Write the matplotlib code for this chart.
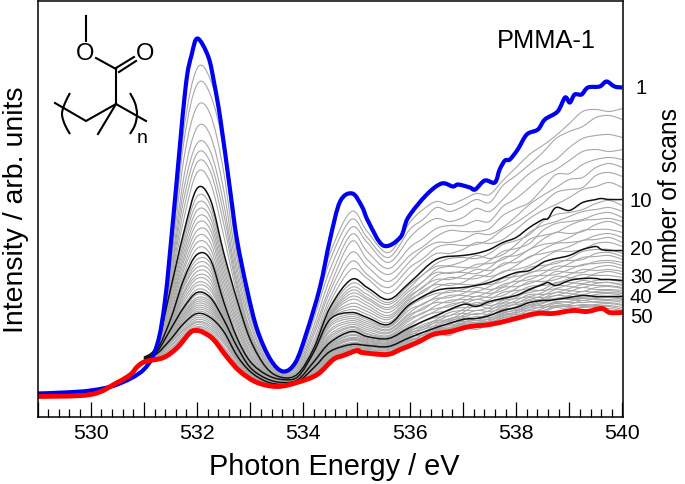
import numpy as np
import matplotlib
matplotlib.use('Agg')
import matplotlib.pyplot as plt
from matplotlib.path import Path
from matplotlib.patches import PathPatch

plt.rcParams['font.family'] = ['Liberation Sans', 'DejaVu Sans']

# Intensity is read as a picture depth, counted down from the top of the frame
TOP = 417

# Scan 1
blue_x = [529, 529.5, 530, 530.5, 531, 531.25, 531.4, 531.55, 531.78, 531.9, 532.01, 532.21, 532.32, 532.44,
          532.62, 532.75, 532.94, 533.13, 533.38, 533.62, 533.85, 534.06, 534.31, 534.5, 534.69, 534.92,
          535.1, 535.22, 535.5, 535.82, 535.97, 536.32, 536.6, 536.81, 536.91, 537.13, 537.23, 537.41, 537.6,
          537.69, 537.79, 537.88, 538.03, 538.2, 538.41, 538.54, 538.78, 538.92, 539.01, 539.1, 539.23,
          539.35, 539.57, 539.7, 539.85, 540]
blue_y = [394, 393, 391, 385, 370, 345, 300, 220, 90, 55, 39, 57, 83, 120,
          190, 240, 290, 330, 360, 372, 363, 333, 288, 240, 202, 194,
          207, 222, 246, 238, 218, 195, 184, 187, 185, 188, 190, 181, 183,
          170, 161, 160, 150, 135, 130, 120, 112, 98, 103, 95, 95,
          88, 87, 82, 87, 88]

# Scan 50
red_x = [529, 530, 530.5, 530.75, 530.88, 531.03, 531.37, 531.63, 531.87, 532, 532.12, 532.31, 532.57, 532.81, 533.13,
         533.51, 533.88, 534.26, 534.56, 534.75, 535.01, 535.1, 535.57, 535.82, 536.14, 536.44, 536.76, 537.13,
         537.51, 537.92, 538.39, 538.69, 539.07, 539.33, 539.61, 539.76, 540]
red_y = [397, 395, 383, 375, 367, 362, 358, 348, 333, 331, 333, 340, 358, 372, 383,
         387, 383, 375, 360, 356, 351, 353, 355, 350, 343, 335, 332, 327,
         325, 320, 314, 314, 311, 312, 309, 313, 313]

# Scans 10, 20, 30, 40
black_x = [531, 531.25, 531.5, 531.75, 532, 532.25, 532.5, 532.75, 533, 533.3, 533.6, 533.9, 534.2, 534.5, 534.9,
           535.2, 535.6, 536, 536.5, 537, 537.25, 537.5, 537.75, 538, 538.25, 538.5, 538.6, 538.75, 539, 539.25,
           539.5, 539.6, 539.75, 540]
scan_10 = [358, 345, 290, 233, 189, 200, 253, 300, 340, 368, 378, 374, 348, 308, 280,
           288, 300, 283, 260, 256, 254, 250, 243, 238, 228, 220, 219, 208, 211, 203,
           200, 199, 200, 200]
scan_20 = [359, 350, 320, 280, 255, 260, 302, 338, 362, 375, 380, 377, 352, 320, 313,
           318, 325, 305, 291, 288, 286, 283, 278, 273, 271, 263, 261, 259, 256, 250,
           247, 250, 251, 251]
scan_30 = [360, 352, 330, 308, 293, 298, 320, 347, 368, 379, 383, 380, 362, 343, 332,
           337, 339, 328, 316, 305, 307, 302, 299, 296, 290, 285, 283, 286, 281, 279,
           279, 280, 280, 281]
scan_40 = [361, 354, 340, 324, 314, 318, 332, 356, 372, 382, 385, 382, 368, 352, 345,
           346, 347, 338, 328, 320, 319, 316, 311, 308, 303, 301, 301, 300, 298, 296,
           297, 297, 297, 297]

# The grey scans in between
gray_x = [531, 531.25, 531.5, 531.75, 532, 532.25, 532.5, 532.75, 533, 533.3, 533.6, 533.9, 534.2, 534.5, 534.9,
          535.2, 535.6, 536, 536.5, 537, 537.5, 538, 538.5, 539, 539.5, 540]
scans_2_9 = [
    [362, 345, 258, 131, 69, 80, 135, 252, 312, 354, 372, 359, 308, 254, 212, 232, 253, 223, 202, 200, 195, 168, 146, 124, 110, 109],
    [362, 345, 262, 143, 85, 95, 150, 258, 316, 356, 373, 361, 313, 261, 220, 238, 258, 230, 208, 207, 203, 176, 153, 132, 118, 120],
    [362, 345, 268, 160, 107, 115, 172, 267, 321, 359, 374, 364, 319, 270, 228, 243, 263, 238, 219, 218, 212, 186, 166, 148, 136, 138],
    [362, 345, 273, 178, 128, 136, 190, 274, 325, 361, 375, 366, 326, 279, 235, 252, 269, 248, 229, 226, 222, 199, 177, 161, 150, 150],
    [362, 345, 277, 190, 144, 152, 204, 281, 330, 363, 376, 368, 331, 287, 242, 260, 275, 256, 237, 232, 229, 209, 189, 174, 160, 160],
    [362, 345, 280, 200, 154, 163, 214, 285, 332, 364, 376, 370, 335, 292, 253, 267, 282, 262, 243, 240, 235, 217, 196, 180, 168, 168],
    [362, 345, 284, 210, 163, 172, 224, 289, 335, 366, 377, 371, 340, 298, 262, 275, 288, 268, 248, 246, 240, 223, 204, 190, 176, 177],
    [362, 345, 287, 220, 173, 183, 236, 294, 337, 367, 377, 372, 344, 303, 270, 279, 294, 275, 254, 250, 244, 230, 211, 198, 187, 188],
]
scans_11_19 = [
    [362, 346, 293, 238, 197, 206, 258, 304, 342, 369, 378, 375, 349, 310, 284, 291, 303, 285, 264, 258, 254, 241, 222, 213, 204, 206],
    [362, 346, 296, 243, 204, 212, 263, 308, 344, 370, 378, 375, 350, 312, 288, 295, 305, 288, 267, 262, 259, 245, 226, 217, 210, 212],
    [362, 347, 299, 248, 211, 218, 268, 312, 347, 371, 378, 375, 350, 314, 291, 298, 308, 291, 270, 268, 261, 249, 231, 222, 215, 218],
    [362, 347, 302, 253, 218, 224, 273, 316, 349, 371, 379, 376, 351, 315, 294, 300, 310, 294, 273, 271, 264, 252, 236, 226, 220, 222],
    [362, 348, 305, 258, 224, 230, 278, 320, 352, 372, 379, 376, 351, 316, 297, 303, 313, 296, 276, 273, 268, 256, 240, 234, 225, 227],
    [362, 348, 308, 262, 231, 236, 283, 323, 354, 373, 379, 376, 351, 317, 300, 306, 316, 298, 280, 276, 271, 259, 245, 238, 230, 233],
    [362, 349, 311, 267, 237, 243, 288, 327, 356, 373, 379, 377, 352, 318, 304, 309, 318, 300, 283, 279, 274, 263, 250, 243, 236, 238],
    [362, 349, 314, 271, 243, 249, 293, 330, 358, 374, 380, 377, 352, 319, 307, 312, 320, 302, 285, 283, 277, 266, 254, 247, 240, 243],
    [362, 350, 317, 276, 249, 255, 297, 334, 360, 374, 380, 377, 352, 320, 310, 315, 323, 304, 288, 285, 280, 270, 259, 252, 244, 247],
]
scans_21_29 = [
    [362, 350, 321, 283, 260, 264, 304, 339, 363, 375, 380, 378, 353, 323, 315, 320, 327, 307, 294, 290, 285, 275, 266, 259, 250, 254],
    [362, 350, 322, 286, 264, 268, 306, 340, 363, 376, 381, 378, 354, 325, 317, 322, 328, 310, 297, 292, 287, 277, 268, 261, 254, 257],
    [362, 351, 324, 288, 268, 272, 308, 341, 364, 376, 381, 378, 355, 327, 319, 324, 330, 313, 299, 294, 290, 280, 271, 264, 257, 260],
    [363, 351, 325, 292, 272, 276, 310, 342, 365, 377, 382, 379, 356, 330, 321, 326, 331, 315, 301, 296, 292, 282, 274, 267, 262, 263],
    [363, 351, 326, 294, 276, 280, 312, 343, 365, 377, 382, 379, 358, 332, 323, 328, 333, 317, 303, 298, 294, 284, 276, 270, 264, 266],
    [363, 351, 326, 297, 279, 284, 314, 344, 366, 378, 382, 379, 359, 335, 325, 330, 334, 319, 306, 300, 296, 287, 279, 273, 268, 269],
    [363, 352, 327, 300, 283, 288, 315, 345, 366, 378, 382, 380, 360, 337, 327, 332, 336, 321, 309, 302, 298, 289, 282, 275, 271, 272],
    [363, 352, 328, 303, 286, 291, 317, 346, 367, 378, 383, 380, 361, 339, 328, 334, 337, 324, 311, 303, 300, 291, 284, 278, 274, 275],
    [363, 352, 329, 306, 290, 295, 319, 346, 367, 379, 383, 380, 361, 341, 330, 335, 338, 326, 313, 305, 302, 293, 286, 279, 276, 278],
]
scans_31_39 = [
    [363, 352, 331, 310, 295, 300, 321, 348, 368, 379, 383, 380, 363, 344, 333, 338, 340, 329, 317, 308, 304, 296, 290, 283, 281, 283],
    [363, 352, 332, 312, 298, 302, 322, 349, 369, 380, 383, 380, 364, 345, 335, 339, 341, 330, 318, 310, 306, 298, 291, 285, 283, 285],
    [363, 353, 333, 314, 300, 304, 324, 350, 369, 380, 384, 381, 364, 346, 336, 340, 342, 331, 320, 311, 308, 299, 293, 287, 284, 286],
    [363, 353, 334, 315, 302, 306, 325, 351, 370, 380, 384, 381, 365, 347, 338, 341, 343, 332, 321, 313, 309, 301, 295, 289, 286, 288],
    [363, 353, 335, 317, 304, 308, 326, 352, 370, 381, 384, 381, 366, 348, 339, 342, 344, 333, 322, 314, 311, 303, 296, 291, 288, 289],
    [363, 353, 336, 318, 306, 310, 327, 353, 370, 381, 384, 381, 366, 349, 340, 343, 344, 334, 323, 316, 312, 304, 298, 292, 290, 291],
    [363, 353, 337, 320, 308, 312, 328, 354, 371, 381, 385, 382, 367, 350, 341, 344, 345, 335, 325, 317, 314, 305, 299, 294, 292, 293],
    [363, 354, 338, 321, 310, 314, 330, 355, 371, 382, 385, 382, 367, 351, 343, 345, 346, 336, 326, 318, 315, 307, 300, 296, 293, 294],
    [363, 354, 339, 323, 312, 316, 331, 355, 372, 382, 385, 382, 368, 351, 344, 345, 346, 337, 327, 319, 316, 308, 301, 297, 295, 296],
]
scans_41_49 = [
    [363, 355, 341, 326, 316, 320, 334, 357, 372, 382, 385, 382, 369, 353, 346, 347, 348, 339, 329, 321, 318, 310, 303, 299, 298, 299],
    [363, 355, 342, 328, 318, 322, 336, 358, 373, 383, 385, 383, 370, 354, 347, 348, 348, 340, 330, 322, 319, 311, 304, 300, 299, 300],
    [363, 356, 343, 330, 320, 324, 338, 359, 374, 383, 386, 383, 371, 355, 347, 349, 349, 341, 330, 323, 320, 312, 306, 302, 300, 301],
    [363, 356, 344, 331, 322, 326, 340, 360, 374, 383, 386, 383, 372, 356, 348, 350, 350, 341, 331, 324, 321, 313, 307, 303, 302, 303],
    [363, 357, 346, 333, 323, 328, 342, 361, 375, 384, 386, 383, 373, 357, 349, 350, 351, 342, 332, 324, 322, 314, 308, 305, 303, 305],
    [363, 357, 347, 335, 325, 330, 344, 362, 376, 384, 386, 383, 374, 358, 350, 351, 352, 343, 332, 325, 322, 315, 309, 306, 305, 306],
    [363, 358, 349, 337, 327, 332, 347, 364, 376, 384, 387, 383, 375, 359, 350, 352, 353, 344, 333, 326, 323, 316, 311, 307, 306, 308],
    [363, 358, 350, 338, 328, 334, 349, 365, 377, 385, 387, 383, 375, 360, 351, 353, 354, 345, 333, 326, 324, 317, 312, 308, 307, 310],
    [363, 359, 352, 340, 330, 336, 351, 366, 378, 385, 387, 383, 376, 361, 351, 353, 354, 345, 334, 327, 324, 318, 313, 310, 308, 311],
]

# Extra readings of the same grey scans on the noisy right-hand side, one row per scan
gray_mid_x = [536.25, 536.75, 537.25, 537.75, 538.25, 538.75, 539.25, 539.75]
mid_2_9 = [
    [210, 205, 194, 181, 155, 136, 112, 112], [220, 212, 200, 186, 165, 139, 127, 116],
    [226, 222, 209, 200, 174, 160, 139, 135], [239, 226, 221, 207, 188, 170, 152, 152],
    [247, 231, 232, 216, 203, 175, 165, 158], [250, 243, 234, 228, 205, 188, 178, 164],
    [259, 245, 245, 230, 214, 193, 188, 173], [263, 254, 243, 240, 219, 205, 190, 183],
]
mid_11_19 = [
    [275, 259, 259, 245, 235, 215, 210, 201], [275, 266, 256, 255, 233, 222, 212, 208],
    [282, 267, 268, 252, 244, 224, 220, 213], [282, 274, 265, 260, 240, 233, 221, 219],
    [288, 273, 274, 258, 250, 233, 232, 222], [287, 280, 270, 266, 250, 243, 231, 230],
    [293, 278, 279, 264, 258, 244, 241, 234], [291, 286, 276, 273, 257, 251, 241, 238],
    [298, 284, 285, 272, 266, 252, 250, 243],
]
mid_21_29 = [
    [299, 293, 285, 282, 268, 264, 252, 250], [305, 291, 292, 279, 274, 262, 260, 253],
    [304, 298, 288, 287, 273, 270, 258, 256], [310, 296, 297, 285, 280, 267, 266, 261],
    [308, 303, 293, 291, 277, 275, 265, 263], [314, 301, 300, 288, 284, 272, 273, 266],
    [313, 307, 297, 296, 282, 280, 270, 270], [318, 305, 305, 293, 289, 277, 279, 272],
    [317, 311, 300, 300, 287, 284, 275, 276],
]
mid_31_39 = [
    [322, 310, 307, 298, 293, 283, 284, 280], [322, 316, 303, 303, 291, 289, 281, 283],
    [327, 313, 311, 301, 297, 286, 288, 283], [325, 320, 306, 306, 295, 293, 285, 286],
    [330, 316, 315, 304, 300, 290, 292, 287], [328, 322, 311, 309, 298, 296, 288, 290],
    [333, 319, 319, 307, 303, 293, 295, 291], [330, 325, 314, 312, 301, 299, 292, 293],
    [335, 321, 321, 310, 305, 296, 298, 294],
]
mid_41_49 = [
    [333, 328, 317, 314, 306, 299, 299, 297], [338, 324, 323, 313, 308, 300, 301, 298],
    [335, 330, 319, 317, 306, 303, 299, 300], [339, 326, 326, 315, 310, 302, 303, 301],
    [336, 333, 321, 319, 308, 306, 301, 303], [340, 328, 328, 316, 313, 304, 306, 304],
    [338, 335, 323, 321, 311, 307, 305, 306], [341, 329, 330, 318, 315, 306, 308, 307],
    [340, 336, 325, 322, 314, 308, 307, 309],
]

scan_labels = ['1', '10', '20', '30', '40', '50']
scan_label_x = [540.25, 540.14, 540.14, 540.14, 540.14, 540.14]
scan_label_y = [88, 201, 249, 277, 297, 317]


# Rounded line through the readings, drawn as a bezier path
def smooth_line(ax, x, y, color, lw):
    pts = np.column_stack([x, y]).astype(float)
    n = len(pts)
    verts = [pts[0]]
    codes = [Path.MOVETO]
    for i in range(n - 1):
        p0, p1, p2, p3 = pts[max(i - 1, 0)], pts[i], pts[i + 1], pts[min(i + 2, n - 1)]
        verts += [p1 + (p2 - p0) / 6, p2 - (p3 - p1) / 6, p2]
        codes += [Path.CURVE4] * 3
    ax.add_patch(PathPatch(Path(verts, codes), fc='none', ec=color, lw=lw, joinstyle='round'))


fig = plt.figure(figsize=(6.85, 4.85), dpi=100)
ax = fig.add_axes([37.5 / 685, (485 - 417.5) / 485, 585.0 / 685, 416.0 / 485])

# Plotting
groups = [(scans_2_9, mid_2_9), (scans_11_19, mid_11_19), (scans_21_29, mid_21_29),
          (scans_31_39, mid_31_39), (scans_41_49, mid_41_49)]
for main_rows, mid_rows in groups:
    for row, mid in zip(main_rows, mid_rows):
        x = np.array(gray_x + gray_mid_x)
        y = TOP - np.array(row + mid)
        order = np.argsort(x)
        smooth_line(ax, x[order], y[order], '#a8a8a8', 0.8)
for row in [scan_10, scan_20, scan_30, scan_40]:
    smooth_line(ax, black_x, TOP - np.array(row), '#111111', 1.1)
smooth_line(ax, blue_x, TOP - np.array(blue_y), '#0000f0', 3.0)
smooth_line(ax, red_x, TOP - np.array(red_y), '#ff0000', 3.5)

ax.set_xlim(529, 540)
ax.set_ylim(0, 416)
ax.set_yticks([])
ax.set_xticks(np.arange(529, 541))
ax.set_xticklabels(['' if v % 2 else str(v) for v in range(529, 541)])
ax.set_xticks(np.arange(529, 540.01, 0.2), minor=True)
ax.tick_params(axis='x', which='major', direction='in', length=10.5, width=0.9, labelsize=15.4, pad=5)
ax.tick_params(axis='x', which='minor', direction='in', length=5.5, width=0.9)
for spine in ax.spines.values():
    spine.set_linewidth(1.1)

ax.set_xlabel('Photon Energy / eV', fontsize=20.8, labelpad=7, x=0.507)
ax.set_ylabel('Intensity / arb. units', fontsize=20.5, labelpad=6)

ax.text(538.56, TOP - 41, 'PMMA-1', fontsize=18.3, ha='center', va='center')

for lab, lx, y in zip(scan_labels, scan_label_x, scan_label_y):
    ax.text(lx, TOP - y, lab, fontsize=14.6, ha='left', va='center', clip_on=False)
ax.text(540.89, TOP - 201, 'Number of scans', fontsize=17.7, rotation=90, ha='center', va='center', clip_on=False)

# PMMA structure, drawn in picture pixels on an overlay
mol = fig.add_axes([0, 0, 1, 1], facecolor='none')
mol.set_xlim(0, 685)
mol.set_ylim(485, 0)
mol.axis('off')
bonds = [
    ([86, 86], [17, 42]),
    ([96, 116], [59, 70]),
    ([116, 134], [69, 58]),
    ([119, 136], [73, 62]),
    ([116, 116], [70, 105]),
    ([55, 86, 116, 146], [104, 122, 105, 122]),
    ([116, 98], [105, 135]),
]
for bx, by in bonds:
    mol.plot(bx, by, color='black', lw=1.5)
smooth_line(mol, [70, 65, 62, 65, 70], [94, 104, 115, 126, 135], 'black', 1.5)
smooth_line(mol, [130, 135, 137, 135, 130], [94, 104, 115, 126, 135], 'black', 1.5)
mol.text(85, 54, 'O', fontsize=17, ha='center', va='center')
mol.text(145, 54, 'O', fontsize=17, ha='center', va='center')
mol.text(142, 139, 'n', fontsize=14, ha='center', va='center')

plt.savefig('out.png', dpi=100)
